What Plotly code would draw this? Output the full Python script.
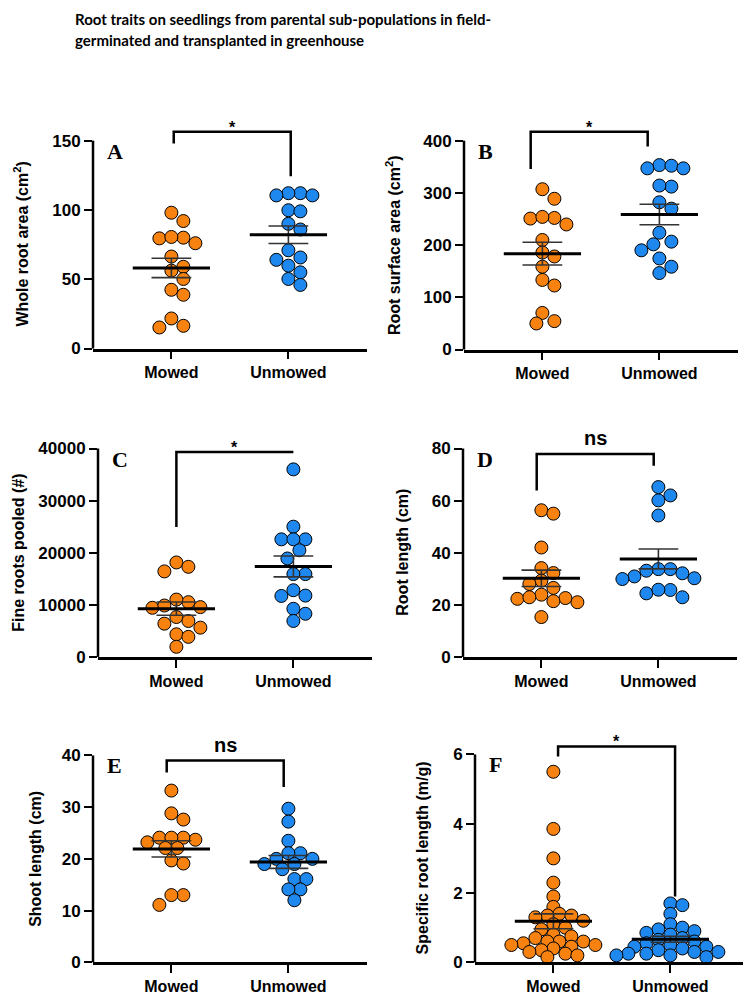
import numpy as np
import plotly.graph_objects as go

# page body keeps its default 8px margin, so the figure is drawn 8px in from the corner
OFF = 8
W, H = 751 - OFF, 1004 - OFF
ORANGE = "#F7820F"
BLUE = "#1E88EE"
groups = ["Mowed", "Unmowed"]

# values
whole_area_mowed = [98, 92, 80, 79.5, 80.5, 76, 66.4, 59, 56.2, 50.2, 42.4, 38.8, 21.7, 15.2, 16.4]
whole_area_unmowed = [112.1, 112.1, 110.5, 110.5, 99.8, 99, 90, 85.9, 70.9, 64, 65.7, 59.8, 55, 50.2, 45.9]

surface_mowed = [307, 288.7, 250.8, 252, 254, 239.5, 209.8, 178.2, 185.8, 158.6, 133.3, 122.6, 70.1, 49.9, 54.4]
surface_unmowed = [353.2, 347, 352, 347, 312, 314, 282, 269.8, 223.7, 201.5, 206.6, 190, 174.4, 158.6, 146.5]

fine_roots_mowed = [18133, 16419, 17295, 10514, 9429, 9562, 9867, 11010, 7657, 6895, 5619, 6381, 4343, 3848, 1943]
fine_roots_unmowed = [36000, 25000, 22571, 22571, 22571, 20476, 18895, 15905, 15905, 12800, 11700, 11771, 9238, 8286, 6900]

root_len_mowed = [56.3, 55.0, 42.0, 34.1, 32.2, 29.3, 28.0, 26.5, 23.9, 22.3, 22.9, 21.0, 22.6, 21.4, 15.3]
root_len_unmowed = [65.2, 62.0, 60.1, 54.3, 33.7, 33.7, 33.1, 32.1, 30.9, 30.2, 29.9, 24.4, 25.7, 25.8, 22.9]

shoot_len_mowed = [33.2, 28.8, 27.6, 23.2, 23.7, 24.1, 24.1, 24.1, 22.1, 22.1, 19.7, 19.1, 13.0, 13.0, 11.1]
shoot_len_unmowed = [29.7, 27.2, 23.5, 21.1, 21.1, 20.0, 20.0, 19.0, 19.0, 18.0, 16.1, 16.1, 14.1, 14.1, 12.0]

srl_mowed = [5.5, 3.85, 3.0, 2.3, 1.9, 1.6, 1.4, 1.35, 1.35, 1.3, 1.2, 1.1, 1.0, 0.95, 0.8,
             0.75, 0.7, 0.6, 0.6, 0.6, 0.55, 0.5, 0.5, 0.45, 0.4, 0.35, 0.3, 0.25, 0.2, 0.15]
srl_unmowed = [1.7, 1.65, 1.4, 1.1, 1.0, 0.95, 0.9, 0.85, 0.8, 0.7, 0.65, 0.6, 0.55, 0.5, 0.45,
               0.45, 0.4, 0.35, 0.3, 0.3, 0.25, 0.25, 0.2, 0.2, 0.15]

panels = [
    dict(letter="A", data=(whole_area_mowed, whole_area_unmowed), ytitle="Whole root area (cm<sup>2</sup>)",
         top=150, dtick=50, sig="*", bracket=(147.9, 156.4, 124.3), bshift=0.02,
         left=93, y0=352, ytop=142, tx=21, gap=12),
    dict(letter="B", data=(surface_mowed, surface_unmowed), ytitle="Root surface area (cm<sup>2</sup>)",
         top=400, dtick=100, sig="*", bracket=(345.6, 417, 389), bshift=-0.1,
         left=464, y0=353, ytop=142, tx=393, gap=12),
    dict(letter="C", data=(fine_roots_mowed, fine_roots_unmowed), ytitle="Fine roots pooled (#)",
         top=40000, dtick=10000, sig="*", bracket=(24914, 39333, 39333), bshift=0.0,
         left=98, y0=663.5, ytop=453, tx=19, gap=12),
    dict(letter="D", data=(root_len_mowed, root_len_unmowed), ytitle="Root length (cm)",
         top=80, dtick=20, sig="ns", bracket=(63.9, 77.9, 73.4), bshift=-0.04,
         left=463, y0=663.5, ytop=453, tx=403, gap=12),
    dict(letter="E", data=(shoot_len_mowed, shoot_len_unmowed), ytitle="Shoot length (cm)",
         top=40, dtick=10, sig="ns", bracket=(36.7, 39.0, 33.9), bshift=-0.04,
         left=93, y0=972, ytop=763, tx=36, gap=12),
    dict(letter="F", data=(srl_mowed, srl_unmowed), ytitle="Specific root length (m/g)",
         top=6, dtick=2, sig="*", bracket=(5.94, 6.23, 1.9), bshift=0.04,
         left=475, y0=972, ytop=762, tx=422, gap=9),
]

XR = [-0.67, 1.67]
PX_X = 117.0
DOT = 13


def fx(px):
    return (px - OFF) / W


def fy(py):
    return 1 - (py - OFF) / H


def swarm(vals, px_y, d=12, step=6):
    # simple beeswarm in pixel space
    vals = np.asarray(vals, dtype=float)
    order = np.argsort(vals)[::-1]
    cands = [0]
    for k in range(1, 25):
        cands += [k * step, -k * step]
    placed = []
    offs = np.zeros(len(vals))
    for i in order:
        yp = vals[i] * px_y
        for c in cands:
            if all((c - a) ** 2 + (yp - b) ** 2 >= d * d for a, b in placed):
                break
        placed.append((c, yp))
        offs[i] = c / PX_X
    return offs


fig = go.Figure()
shapes = []
annotations = []
font_b = "Liberation Sans, Arial, sans-serif"

for n, p in enumerate(panels, start=1):
    xa = "x" if n == 1 else f"x{n}"
    ya = "y" if n == 1 else f"y{n}"
    plot_top = p["ytop"] - 40
    px_y = (p["y0"] - p["ytop"]) / p["top"]
    ymax = (p["y0"] - plot_top) / px_y
    width_px = (XR[1] - XR[0]) * PX_X

    fig.layout[("xaxis" if n == 1 else f"xaxis{n}")] = dict(
        domain=[fx(p["left"]), fx(p["left"] + width_px)], range=XR, anchor=ya,
        showline=True, linewidth=2.5, linecolor="black", ticks="outside", ticklen=8, tickwidth=2,
        tickcolor="black", tickvals=[0, 1], ticktext=groups, showgrid=False, zeroline=False,
        tickfont=dict(family=font_b, size=16, color="black", weight="bold"), fixedrange=True)
    fig.layout[("yaxis" if n == 1 else f"yaxis{n}")] = dict(
        domain=[fy(p["y0"]), fy(plot_top)], range=[0, ymax], anchor=xa,
        showline=False, ticks="outside", ticklen=8, tickwidth=2, tickcolor="black",
        tickvals=list(np.arange(0, p["top"] + p["dtick"] / 2, p["dtick"])), tickformat="d",
        showgrid=False, zeroline=False,
        tickfont=dict(family=font_b, size=17, color="black", weight="bold"), fixedrange=True)

    # y axis line only up to the top tick
    shapes.append(dict(type="line", xref=f"{xa} domain", yref=f"{ya} domain", x0=0, x1=0,
                       y0=0, y1=p["top"] / ymax, line=dict(color="black", width=2.5)))

    for g, (vals, col) in enumerate(zip(p["data"], [ORANGE, BLUE])):
        vals = np.asarray(vals, dtype=float)
        offs = swarm(vals, px_y, d=p["gap"])
        fig.add_trace(go.Scatter(x=g + offs, y=vals, mode="markers", xaxis=xa, yaxis=ya, cliponaxis=False,
                                 marker=dict(size=DOT, color=col, line=dict(color="black", width=1)),
                                 showlegend=False, hoverinfo="y"))
        m = vals.mean()
        sem = vals.std(ddof=1) / np.sqrt(len(vals))
        # SEM error bar
        fig.add_trace(go.Scatter(
            x=[g - 0.17, g + 0.17, None, g, g, None, g - 0.17, g + 0.17],
            y=[m + sem, m + sem, None, m + sem, m - sem, None, m - sem, m - sem],
            mode="lines", xaxis=xa, yaxis=ya, line=dict(color="#333333", width=1.6),
            showlegend=False, hoverinfo="skip"))
        # mean line
        fig.add_trace(go.Scatter(x=[g - 0.33, g + 0.33], y=[m, m], mode="lines", xaxis=xa, yaxis=ya,
                                 line=dict(color="black", width=3), showlegend=False, hoverinfo="skip"))

    # significance bracket
    bl, bh, br = p["bracket"]
    s = p["bshift"]
    shapes.append(dict(type="path", xref=xa, yref=ya,
                       path=f"M {0 + s},{bl} L {0 + s},{bh} L {1 + s},{bh} L {1 + s},{br}",
                       line=dict(color="black", width=2.5)))
    if p["sig"] == "*":
        annotations.append(dict(x=0.5 + s, y=bh, xref=xa, yref=ya, text="<b>*</b>", showarrow=False,
                                yanchor="bottom", yshift=-6, font=dict(family=font_b, size=16, color="black")))
    else:
        annotations.append(dict(x=0.5 + s, y=bh, xref=xa, yref=ya, text="<b>ns</b>", showarrow=False,
                                yanchor="bottom", yshift=3, font=dict(family=font_b, size=20, color="black")))

    # panel letter
    annotations.append(dict(x=fx(p["left"] + 12), y=fy(p["ytop"] - 4), xref="paper", yref="paper",
                            text=f"<b>{p['letter']}</b>", showarrow=False, xanchor="left", yanchor="top",
                            font=dict(family="Liberation Serif, Times New Roman, serif", size=22, color="black")))
    # y title
    annotations.append(dict(x=fx(p["tx"]), y=fy((p["y0"] + p["ytop"]) / 2), xref="paper", yref="paper",
                            text=f"<b>{p['ytitle']}</b>", showarrow=False, textangle=-90,
                            xanchor="center", yanchor="middle",
                            font=dict(family=font_b, size=16, color="black")))

title_lines = ["Root traits on seedlings from parental sub-populations in field-",
               "germinated and transplanted in greenhouse"]
for line, ty in zip(title_lines, [OFF, OFF + 21]):
    annotations.append(dict(
        x=fx(73), y=fy(ty), xref="paper", yref="paper", xanchor="left", yanchor="top",
        showarrow=False, text=f"<b>{line}</b>",
        font=dict(family="Lato, DejaVu Sans Condensed, sans-serif", size=15, color="black")))

fig.update_layout(width=W, height=H, margin=dict(l=0, r=0, t=0, b=0),
                  plot_bgcolor="white", paper_bgcolor="white",
                  shapes=shapes, annotations=annotations, showlegend=False)

fig.write_html("out.html")
